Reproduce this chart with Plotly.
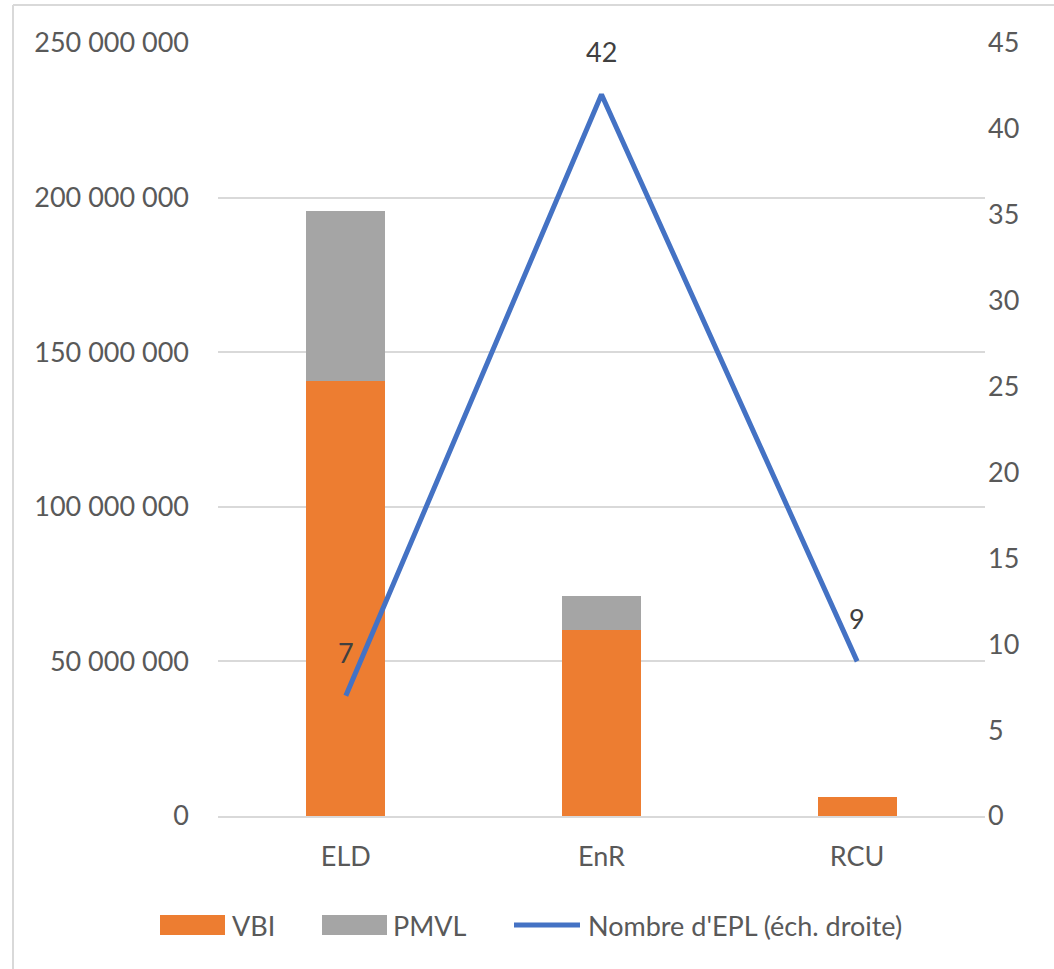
import plotly.graph_objects as go

categories = ["ELD", "EnR", "RCU"]
vbi = [140700000, 60200000, 6300000]
pmvl = [55000000, 11000000, 0]
nb_epl = [7, 42, 9]
left_ticks = [0, 50000000, 100000000, 150000000, 200000000, 250000000]
left_tick_labels = ["0", "50 000 000", "100 000 000", "150 000 000", "200 000 000", "250 000 000"]
right_ticks = [0, 5, 10, 15, 20, 25, 30, 35, 40, 45]
series_names = ["VBI", "PMVL", "Nombre d'EPL (éch. droite)"]
series_colors = ["#ED7D31", "#A5A5A5", "#4472C4"]

FONT = "Lato"
FS = 27
TICK_COLOR = "#595959"
GRID = "#D9D9D9"

# plot-area pixel geometry (for converting legend/border positions to paper coords)
PL, PR, PT, PB = 218, 985, 43, 816
def px(x):
    return (x - PL) / (PR - PL)
def py(y):
    return (PB - y) / (PB - PT)

fig = go.Figure()
fig.add_trace(go.Bar(x=categories, y=vbi, name=series_names[0],
                     marker=dict(color=series_colors[0], line=dict(width=0)), width=0.31, yaxis="y"))
fig.add_trace(go.Bar(x=categories, y=pmvl, name=series_names[1],
                     marker=dict(color=series_colors[1], line=dict(width=0)), width=0.31, yaxis="y"))
fig.add_trace(go.Scatter(x=categories, y=nb_epl, name=series_names[2], mode="lines",
                         line=dict(color=series_colors[2], width=5), yaxis="y2"))

for c, v in zip(categories, nb_epl):
    fig.add_annotation(x=c, y=v, xref="x", yref="y2", text=str(v), showarrow=False,
                       yshift=43, font=dict(family=FONT, size=FS, color="#404040"))

fig.update_layout(
    width=1054, height=969,
    margin=dict(l=PL, r=1054 - PR, t=PT, b=969 - PB),
    barmode="stack",
    plot_bgcolor="white", paper_bgcolor="white",
    font=dict(family=FONT, size=FS, color=TICK_COLOR),
    showlegend=False,
    xaxis=dict(showgrid=False, showline=True, linecolor=GRID, linewidth=2, ticks="",
               tickfont=dict(family=FONT, size=FS, color=TICK_COLOR), ticklabelstandoff=16),
    yaxis=dict(range=[0, 250000000], tickvals=left_ticks, ticktext=left_tick_labels,
               showgrid=True, gridcolor=GRID, gridwidth=2, zeroline=False, showline=False,
               tickfont=dict(family=FONT, size=FS, color=TICK_COLOR), ticklabelstandoff=28),
    yaxis2=dict(range=[0, 45], tickvals=right_ticks, overlaying="y", side="right",
                showgrid=False, zeroline=False, showline=False,
                tickfont=dict(family=FONT, size=FS, color=TICK_COLOR), ticklabelstandoff=2),
    bargap=0.69,
)

# chart-area border (left and top edges visible)
fig.add_shape(type="line", xref="paper", yref="paper", x0=px(13), x1=px(13),
              y0=py(5), y1=py(1000), line=dict(color=GRID, width=2))
fig.add_shape(type="line", xref="paper", yref="paper", x0=px(13), x1=px(1100),
              y0=py(5), y1=py(5), line=dict(color=GRID, width=2))

# custom legend (wide swatches like the original)
legend_y = 925
# VBI
fig.add_shape(type="rect", xref="paper", yref="paper", x0=px(160), x1=px(225),
              y0=py(legend_y - 10), y1=py(legend_y + 10), fillcolor=series_colors[0], line=dict(width=0))
fig.add_annotation(xref="paper", yref="paper", x=px(230), y=py(legend_y), text=series_names[0],
                   xanchor="left", yanchor="middle", showarrow=False,
                   font=dict(family=FONT, size=FS, color=TICK_COLOR))
# PMVL
fig.add_shape(type="rect", xref="paper", yref="paper", x0=px(322), x1=px(387),
              y0=py(legend_y - 10), y1=py(legend_y + 10), fillcolor=series_colors[1], line=dict(width=0))
fig.add_annotation(xref="paper", yref="paper", x=px(391), y=py(legend_y), text=series_names[1],
                   xanchor="left", yanchor="middle", showarrow=False,
                   font=dict(family=FONT, size=FS, color=TICK_COLOR))
# line
fig.add_shape(type="line", xref="paper", yref="paper", x0=px(514), x1=px(580),
              y0=py(legend_y), y1=py(legend_y), line=dict(color=series_colors[2], width=5))
fig.add_annotation(xref="paper", yref="paper", x=px(586), y=py(legend_y), text=series_names[2],
                   xanchor="left", yanchor="middle", showarrow=False,
                   font=dict(family=FONT, size=FS, color=TICK_COLOR))

fig.write_html("out.html")
